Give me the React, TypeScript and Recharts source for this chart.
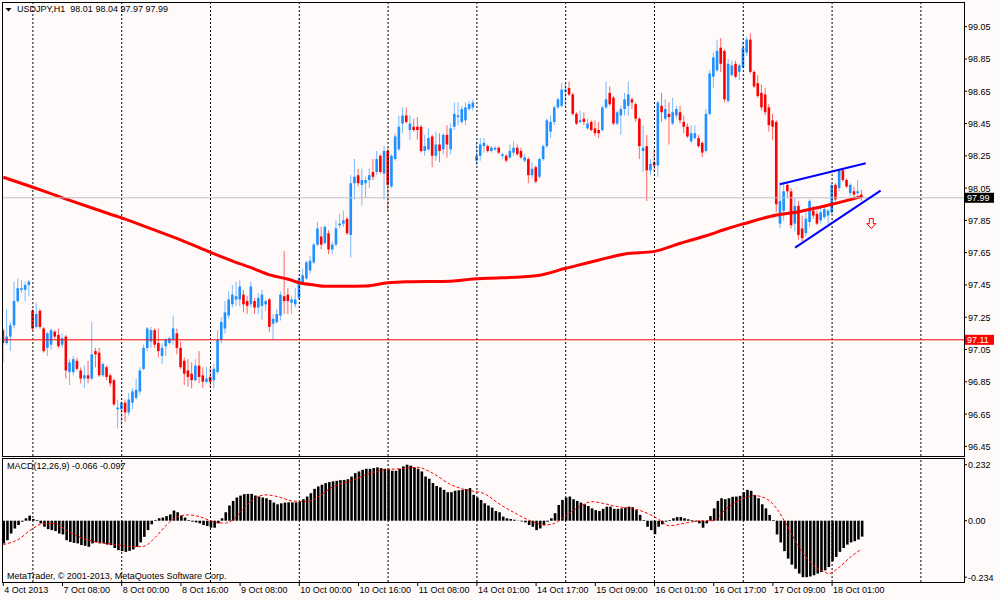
import React from "react"
import {
  ComposedChart,
  Bar,
  Line,
  XAxis,
  YAxis,
  ReferenceLine,
  ReferenceDot,
} from "recharts"

const FONT = "'Liberation Sans', Arial, sans-serif"
const BG = "#fffafa"
const BULL = "#1e90ff"
const BEAR = "#ff0000"

// USDJPY H1, 4 Oct 2013 16:00 .. 18 Oct 2013 08:00 — [open, high, low, close]
const ohlc: [number, number, number, number][] = [
  // 0
  [97.17, 97.18, 96.97, 97.09], [97.09, 97.3, 97.08, 97.13], [97.13, 97.22, 97.04, 97.2], [97.2, 97.47, 97.18, 97.35], [97.35, 97.49, 97.34, 97.43],
  [97.42, 97.48, 97.4, 97.43], [97.42, 97.47, 97.35, 97.45], [97.45, 97.48, 97.38, 97.47], [97.29, 97.3, 97.17, 97.18], [97.19, 97.34, 97.18, 97.27],
  // 10
  [97.29, 97.3, 97.18, 97.19], [97.18, 97.19, 97.03, 97.04], [97.06, 97.16, 97.01, 97.15], [97.08, 97.18, 97.05, 97.17], [97.16, 97.17, 97.11, 97.13],
  [97.14, 97.18, 97.06, 97.07], [97.08, 97.15, 97.06, 97.12], [97.13, 97.14, 96.87, 96.92], [96.91, 96.99, 96.83, 96.97], [96.91, 97.01, 96.89, 96.99],
  // 20
  [96.98, 97.0, 96.92, 96.93], [96.92, 96.94, 96.84, 96.87], [96.87, 96.95, 96.81, 96.89], [96.89, 96.98, 96.84, 96.87], [96.87, 97.22, 96.86, 97.02],
  [97.04, 97.06, 96.94, 97.02], [97.03, 97.06, 96.88, 96.89], [96.89, 96.97, 96.88, 96.96], [96.94, 96.95, 96.86, 96.88], [96.89, 96.9, 96.82, 96.84],
  // 30
  [96.86, 96.87, 96.7, 96.71], [96.68, 96.74, 96.56, 96.69], [96.68, 96.73, 96.58, 96.72], [96.72, 96.74, 96.6, 96.66], [96.66, 96.78, 96.64, 96.74],
  [96.72, 96.81, 96.68, 96.79], [96.75, 96.87, 96.74, 96.8], [96.79, 96.94, 96.77, 96.92], [96.93, 97.08, 96.92, 97.06], [97.06, 97.19, 97.04, 97.18],
  // 40
  [97.1, 97.19, 97.06, 97.17], [97.17, 97.18, 97.06, 97.08], [97.09, 97.18, 97.0, 97.04], [97.01, 97.09, 96.96, 97.06], [97.07, 97.12, 97.01, 97.11],
  [97.09, 97.13, 97.08, 97.12], [97.11, 97.26, 97.08, 97.18], [97.15, 97.18, 97.02, 97.06], [97.06, 97.1, 96.93, 96.94], [96.98, 97.0, 96.83, 96.9],
  // 50
  [96.92, 96.99, 96.82, 96.88], [96.9, 96.97, 96.81, 96.86], [96.86, 96.99, 96.85, 96.95], [96.95, 97.04, 96.84, 96.88], [96.89, 96.94, 96.81, 96.85],
  [96.85, 96.94, 96.84, 96.87], [96.88, 96.94, 96.81, 96.85], [96.86, 96.96, 96.81, 96.93], [96.91, 97.17, 96.9, 97.11], [97.11, 97.25, 97.09, 97.22],
  // 60
  [97.18, 97.35, 97.15, 97.28], [97.26, 97.41, 97.24, 97.36], [97.33, 97.45, 97.31, 97.39], [97.36, 97.47, 97.32, 97.38], [97.36, 97.48, 97.32, 97.44],
  [97.39, 97.42, 97.28, 97.33], [97.35, 97.38, 97.27, 97.32], [97.33, 97.47, 97.31, 97.44], [97.35, 97.37, 97.27, 97.31], [97.31, 97.4, 97.27, 97.37],
  // 70
  [97.32, 97.42, 97.23, 97.39], [97.33, 97.36, 97.29, 97.35], [97.36, 97.37, 97.16, 97.19], [97.21, 97.27, 97.11, 97.24], [97.22, 97.3, 97.21, 97.27],
  [97.26, 97.41, 97.23, 97.39], [97.38, 97.66, 97.27, 97.35], [97.39, 97.43, 97.27, 97.35], [97.34, 97.38, 97.27, 97.36], [97.33, 97.43, 97.31, 97.36],
  // 80
  [97.37, 97.5, 97.36, 97.49], [97.46, 97.55, 97.45, 97.51], [97.49, 97.6, 97.48, 97.59], [97.54, 97.63, 97.52, 97.6], [97.59, 97.71, 97.58, 97.7],
  [97.7, 97.84, 97.69, 97.8], [97.75, 97.81, 97.67, 97.7], [97.71, 97.82, 97.7, 97.81], [97.77, 97.79, 97.64, 97.67], [97.67, 97.72, 97.64, 97.7],
  // 90
  [97.7, 97.85, 97.69, 97.8], [97.82, 97.89, 97.8, 97.83], [97.83, 97.91, 97.81, 97.85], [97.86, 97.87, 97.76, 97.77], [97.76, 98.13, 97.62, 98.08],
  [98.08, 98.23, 97.98, 98.12], [98.13, 98.17, 98.06, 98.08], [98.07, 98.17, 97.94, 98.1], [98.08, 98.12, 97.99, 98.1], [98.1, 98.17, 98.05, 98.13],
  // 100
  [98.15, 98.23, 98.1, 98.12], [98.15, 98.28, 98.13, 98.23], [98.25, 98.26, 98.14, 98.15], [98.14, 98.31, 97.98, 98.28], [98.28, 98.3, 97.91, 98.07],
  [98.06, 98.26, 98.05, 98.25], [98.23, 98.39, 98.22, 98.37], [98.29, 98.5, 98.28, 98.43], [98.45, 98.55, 98.39, 98.5], [98.5, 98.55, 98.45, 98.46],
  // 110
  [98.41, 98.5, 98.35, 98.45], [98.43, 98.48, 98.4, 98.41], [98.43, 98.49, 98.35, 98.41], [98.43, 98.44, 98.27, 98.28], [98.28, 98.38, 98.25, 98.31],
  [98.29, 98.42, 98.28, 98.36], [98.37, 98.38, 98.18, 98.25], [98.25, 98.4, 98.22, 98.32], [98.32, 98.39, 98.21, 98.28], [98.29, 98.39, 98.26, 98.38],
  // 120
  [98.38, 98.44, 98.24, 98.32], [98.29, 98.45, 98.26, 98.42], [98.43, 98.58, 98.41, 98.51], [98.49, 98.58, 98.44, 98.5], [98.46, 98.56, 98.45, 98.54],
  [98.47, 98.58, 98.44, 98.55], [98.54, 98.59, 98.53, 98.57], [98.55, 98.6, 98.53, 98.58], [98.22, 98.34, 98.19, 98.25], [98.25, 98.36, 98.22, 98.32],
  // 130
  [98.31, 98.36, 98.27, 98.33], [98.31, 98.32, 98.27, 98.28], [98.28, 98.31, 98.27, 98.3], [98.29, 98.31, 98.28, 98.3], [98.3, 98.31, 98.26, 98.27],
  [98.25, 98.27, 98.23, 98.26], [98.25, 98.26, 98.21, 98.22], [98.24, 98.32, 98.23, 98.28], [98.27, 98.34, 98.25, 98.3], [98.3, 98.32, 98.25, 98.26],
  // 140
  [98.28, 98.3, 98.23, 98.24], [98.22, 98.26, 98.21, 98.24], [98.23, 98.24, 98.08, 98.13], [98.13, 98.21, 98.11, 98.17], [98.18, 98.19, 98.08, 98.09],
  [98.12, 98.24, 98.11, 98.23], [98.23, 98.32, 98.22, 98.31], [98.31, 98.48, 98.3, 98.47], [98.4, 98.5, 98.36, 98.46], [98.46, 98.56, 98.44, 98.55],
  // 150
  [98.55, 98.61, 98.54, 98.6], [98.56, 98.7, 98.55, 98.66], [98.65, 98.7, 98.56, 98.66], [98.67, 98.71, 98.62, 98.63], [98.63, 98.64, 98.5, 98.51],
  [98.51, 98.52, 98.44, 98.45], [98.46, 98.53, 98.45, 98.47], [98.48, 98.52, 98.44, 98.46], [98.42, 98.48, 98.41, 98.45], [98.46, 98.47, 98.4, 98.41],
  // 160
  [98.42, 98.47, 98.37, 98.39], [98.41, 98.46, 98.36, 98.39], [98.41, 98.56, 98.4, 98.55], [98.55, 98.71, 98.54, 98.6], [98.64, 98.68, 98.56, 98.57],
  [98.61, 98.62, 98.44, 98.45], [98.45, 98.53, 98.44, 98.52], [98.5, 98.56, 98.38, 98.54], [98.54, 98.64, 98.5, 98.6], [98.56, 98.71, 98.5, 98.63],
  // 170
  [98.6, 98.61, 98.54, 98.58], [98.57, 98.58, 98.46, 98.48], [98.48, 98.49, 98.23, 98.31], [98.28, 98.44, 98.15, 98.3], [98.31, 98.38, 97.97, 98.16],
  [98.16, 98.23, 98.13, 98.2], [98.21, 98.29, 98.15, 98.19], [98.19, 98.59, 98.12, 98.58], [98.56, 98.64, 98.46, 98.52], [98.48, 98.6, 98.47, 98.54],
  // 180
  [98.51, 98.58, 98.32, 98.49], [98.45, 98.61, 98.44, 98.52], [98.5, 98.56, 98.48, 98.54], [98.52, 98.56, 98.45, 98.47], [98.46, 98.5, 98.39, 98.43],
  [98.43, 98.45, 98.36, 98.37], [98.34, 98.44, 98.33, 98.39], [98.36, 98.44, 98.35, 98.39], [98.36, 98.38, 98.3, 98.31], [98.33, 98.34, 98.24, 98.27],
  // 190
  [98.28, 98.54, 98.27, 98.51], [98.51, 98.78, 98.5, 98.76], [98.74, 98.89, 98.67, 98.86], [98.78, 98.97, 98.77, 98.9], [98.92, 98.98, 98.77, 98.82],
  [98.9, 98.91, 98.58, 98.6], [98.59, 98.85, 98.58, 98.82], [98.75, 98.84, 98.74, 98.81], [98.82, 98.84, 98.73, 98.74], [98.77, 98.82, 98.72, 98.81],
  // 200
  [98.8, 98.96, 98.79, 98.92], [98.89, 98.99, 98.87, 98.97], [98.97, 99.01, 98.76, 98.77], [98.77, 98.78, 98.67, 98.68], [98.7, 98.75, 98.61, 98.62],
  [98.64, 98.69, 98.53, 98.55], [98.63, 98.67, 98.5, 98.52], [98.55, 98.57, 98.4, 98.44], [98.47, 98.51, 98.35, 98.43], [98.46, 98.47, 97.9, 97.95],
  // 210
  [97.83, 98.09, 97.8, 97.97], [97.91, 98.09, 97.85, 98.03], [98.07, 98.09, 97.99, 98.03], [98.03, 98.05, 97.8, 97.82], [97.83, 97.99, 97.78, 97.94],
  [97.94, 97.97, 97.73, 97.76], [97.8, 97.88, 97.72, 97.74], [97.77, 97.9, 97.75, 97.86], [97.84, 97.98, 97.81, 97.97], [97.91, 97.94, 97.86, 97.88],
  // 220
  [97.89, 97.91, 97.82, 97.83], [97.85, 97.93, 97.83, 97.9], [97.87, 97.94, 97.86, 97.92], [97.88, 97.92, 97.83, 97.91], [97.9, 98.08, 97.89, 98.07],
  [98.07, 98.08, 97.97, 97.98], [98.05, 98.17, 98.03, 98.16], [98.16, 98.17, 98.09, 98.1], [98.1, 98.11, 98.05, 98.06], [98.02, 98.08, 98.0, 98.07],
  // 230
  [98.03, 98.06, 97.99, 98.01], [98.02, 98.1, 97.99, 98.03], [98.01, 98.04, 97.97, 97.99],
]

// MACD(12,26,9) main line, drawn as histogram
const macdHist = [
  -0.094, -0.081, -0.053, -0.032, -0.018, -0.004, 0.01, 0.021, 0.007, 0.003,
  -0.011, -0.025, -0.035, -0.039, -0.043, -0.053, -0.057, -0.081, -0.088, -0.092,
  -0.094, -0.101, -0.104, -0.108, -0.094, -0.09, -0.094, -0.094, -0.099, -0.101,
  -0.113, -0.122, -0.126, -0.129, -0.125, -0.119, -0.108, -0.09, -0.067, -0.039,
  -0.015, 0.003, 0.01, 0.013, 0.019, 0.026, 0.042, 0.035, 0.021, 0.013,
  0.003, -0.004, -0.007, -0.011, -0.018, -0.022, -0.029, -0.029, -0.011, 0.01,
  0.035, 0.063, 0.082, 0.096, 0.104, 0.11, 0.111, 0.111, 0.104, 0.1,
  0.096, 0.093, 0.086, 0.075, 0.068, 0.072, 0.075, 0.076, 0.076, 0.076,
  0.079, 0.089, 0.1, 0.114, 0.132, 0.142, 0.149, 0.156, 0.16, 0.163,
  0.165, 0.168, 0.169, 0.172, 0.183, 0.197, 0.204, 0.211, 0.215, 0.215,
  0.218, 0.221, 0.218, 0.215, 0.215, 0.207, 0.207, 0.215, 0.225, 0.232,
  0.228, 0.221, 0.215, 0.204, 0.183, 0.174, 0.156, 0.144, 0.138, 0.128,
  0.118, 0.118, 0.124, 0.126, 0.128, 0.131, 0.135, 0.107, 0.096, 0.086,
  0.072, 0.063, 0.054, 0.04, 0.035, 0.017, 0.01, 0.007, 0.004, 0.001,
  -0.003, -0.007, -0.018, -0.025, -0.039, -0.032, -0.018, -0.004, 0.01, 0.031,
  0.065, 0.086, 0.096, 0.1, 0.089, 0.082, 0.075, 0.068, 0.061, 0.051,
  0.044, 0.04, 0.049, 0.058, 0.058, 0.049, 0.049, 0.051, 0.054, 0.058,
  0.056, 0.044, 0.024, 0.003, -0.025, -0.039, -0.056, -0.025, -0.015, -0.004,
  0.003, 0.01, 0.015, 0.015, 0.01, 0.006, 0.003, -0.004, -0.011, -0.029,
  -0.011, 0.019, 0.051, 0.082, 0.093, 0.089, 0.093, 0.099, 0.1, 0.103,
  0.118, 0.128, 0.124, 0.107, 0.093, 0.068, 0.051, 0.024, 0.003, -0.057,
  -0.09, -0.126, -0.157, -0.182, -0.199, -0.219, -0.234, -0.234, -0.231, -0.226,
  -0.219, -0.213, -0.206, -0.192, -0.168, -0.15, -0.129, -0.113, -0.099, -0.09,
  -0.085, -0.078, -0.066,
]

// signal line, read at [bar, value]
const signalPts: [number, number][] = [
  [0, -0.099], [4, -0.078], [8, -0.032], [11, -0.011], [14, -0.012], [17, -0.039], [22, -0.076],
  [26, -0.09], [31, -0.1], [35, -0.108], [38, -0.106], [41, -0.07], [44, -0.02], [47, 0.016],
  [50, 0.024], [53, 0.017], [57, -0.005], [60, -0.01], [62, 0.003], [65, 0.051], [68, 0.093],
  [71, 0.107], [75, 0.096], [78, 0.082], [82, 0.079], [86, 0.108], [89, 0.14], [94, 0.165],
  [98, 0.19], [103, 0.211], [107, 0.215], [112, 0.221], [116, 0.197], [121, 0.149], [125, 0.128],
  [130, 0.112], [134, 0.07], [139, 0.026], [143, -0.004], [146, -0.018], [149, -0.011], [151, 0.01],
  [155, 0.051], [159, 0.079], [162, 0.072], [166, 0.058], [170, 0.051], [174, 0.031], [177, 0.007],
  [180, -0.021], [184, -0.011], [188, -0.001], [192, 0.0], [195, 0.044], [199, 0.086], [203, 0.104],
  [206, 0.093], [209, 0.051], [212, -0.025], [215, -0.108], [219, -0.185], [222, -0.213], [223, -0.219],
  [226, -0.192], [229, -0.15], [232, -0.118],
]

// slow moving average (red), read at [bar, value]
const maPts: [number, number][] = [
  [0, 98.117], [8, 98.055], [17, 97.982], [26, 97.911], [32, 97.865], [40, 97.797], [49, 97.719],
  [56, 97.652], [62, 97.598], [67, 97.557], [72, 97.512], [77, 97.485], [80, 97.464], [84, 97.45],
  [87, 97.442], [95, 97.442], [98, 97.443], [104, 97.464], [109, 97.47], [121, 97.473], [127, 97.487],
  [131, 97.491], [144, 97.507], [152, 97.553], [161, 97.605], [168, 97.642], [176, 97.658], [183, 97.708],
  [190, 97.755], [196, 97.801], [200, 97.828], [209, 97.883], [215, 97.904], [224, 97.95], [232, 97.997],
]

const labelBars = [0, 16, 32, 48, 64, 80, 96, 112, 128, 144, 160, 176, 192, 208, 224]
const timeLabels = [
  "4 Oct 2013", "7 Oct 08:00", "8 Oct 00:00", "8 Oct 16:00", "9 Oct 08:00",
  "10 Oct 00:00", "10 Oct 16:00", "11 Oct 08:00", "14 Oct 01:00", "14 Oct 17:00",
  "15 Oct 09:00", "16 Oct 01:00", "16 Oct 17:00", "17 Oct 09:00", "18 Oct 01:00",
]
const gridBars = [8, 32, 56, 80, 104, 128, 152, 176, 200, 224, 248]

const priceTicks = [99.05, 98.85, 98.65, 98.45, 98.25, 98.05, 97.85, 97.65, 97.45, 97.25, 97.05, 96.85, 96.65, 96.45]
const lastPrice = 97.99
const levelPrice = 97.11
const macdTicks = [0.232, 0, -0.234]

// hand drawn channel lines [bar, price]
const upperLine: [number, number][] = [[209.9, 98.074], [233.1, 98.204]]
const lowerLine: [number, number][] = [[214, 97.681], [237.1, 98.034]]
const arrowAt: [number, number] = [234.6, 97.83]

// window geometry: bar i sits at x = 3.3 + 3.7 * i, plot spans x 2..964
const X_DOMAIN: [number, number] = [(2 - 3.3) / 3.7, (964 - 3.3) / 3.7]
// 99.05 sits at y 26.7, 161.4 px per yen, main plot y 3..456
const PRICE_DOMAIN: [number, number] = [99.05 - (456 - 26.7) / 161.4, 99.05 + (26.7 - 3) / 161.4]
// macd zero at y 520.7, 241.4 px per unit, plot y 459..582
const MACD_DOMAIN: [number, number] = [-(582 - 520.7) / 241.4, (520.7 - 459) / 241.4]

const maMap = new Map(maPts)
const sigMap = new Map(signalPts)

const rows = ohlc.map(([o, h, l, c], i) => ({
  i,
  o,
  h,
  l,
  c,
  range: [l, h],
  macd: macdHist[i],
  ma: maMap.has(i) ? maMap.get(i) : null,
  sig: sigMap.has(i) ? sigMap.get(i) : null,
}))

const Candle = (props: any) => {
  const { x, y, width, height, payload } = props
  const top = Math.min(y, y + height)
  const span = Math.abs(height)
  const k = span / (payload.h - payload.l || 1)
  const py = (v: number) => top + (payload.h - v) * k
  const cx = x + width / 2
  const col = payload.c >= payload.o ? BULL : BEAR
  const bTop = py(Math.max(payload.o, payload.c))
  const bBot = py(Math.min(payload.o, payload.c))
  return (
    <g>
      <line x1={cx} x2={cx} y1={top} y2={top + span} stroke={col} strokeOpacity={0.6} strokeWidth={1} />
      <rect x={cx - 1.3} y={bTop} width={2.6} height={Math.max(1, bBot - bTop)} fill={col} />
    </g>
  )
}

const PriceTick = (props: any) => {
  const { x, y, payload } = props
  const v = payload.value as number
  const txt = v.toFixed(2)
  if (v === lastPrice || v === levelPrice) {
    return (
      <g>
        <rect x={x - 4} y={y - 5} width={30} height={10} fill={v === lastPrice ? "#000" : "#ff0000"} />
        <text x={x - 1} y={y + 3.5} fontSize={9} fontFamily={FONT} fill="#fff">{txt}</text>
      </g>
    )
  }
  return <text x={x} y={y + 3.5} fontSize={9} fontFamily={FONT} fill="#000">{txt}</text>
}

const MacdTick = (props: any) => {
  const { x, y, payload } = props
  const v = payload.value as number
  return (
    <text x={x} y={y + 3.5} fontSize={9} fontFamily={FONT} fill="#000">
      {v === 0 ? "0.00" : v.toFixed(3)}
    </text>
  )
}

const TimeTick = (props: any) => {
  const { x, y, payload } = props
  return (
    <text x={x + 1} y={y + 6} fontSize={9} fontFamily={FONT} fill="#000">
      {timeLabels[labelBars.indexOf(payload.value)]}
    </text>
  )
}

const DownArrow = (props: any) => {
  const { cx, cy } = props
  const d = `M${cx - 2},${cy - 5} H${cx + 2} V${cy} H${cx + 4.5} L${cx},${cy + 5} L${cx - 4.5},${cy} H${cx - 2} Z`
  return <path d={d} fill={BG} stroke="#ff0000" strokeWidth={1} />
}

const gridLines = () =>
  gridBars.map((b) => (
    <ReferenceLine key={b} x={b} stroke="#000" strokeDasharray="2 2" strokeWidth={1} />
  ))

const frame = (top: number, height: number): React.CSSProperties => ({
  position: "absolute",
  left: 2,
  top,
  width: 963,
  height,
  border: "1px solid #000",
  boxSizing: "border-box",
  pointerEvents: "none",
})

const label = (left: number, top: number): React.CSSProperties => ({
  position: "absolute",
  left,
  top,
  font: `9px ${FONT}`,
  lineHeight: "11px",
  color: "#000",
  whiteSpace: "pre",
})

export default function App() {
  return (
    <div style={{ position: "absolute", left: 0, top: 0, width: 1000, height: 600, background: BG, overflow: "hidden" }}>
      <div style={{ position: "absolute", left: 0, top: 0 }}>
        <ComposedChart width={1000} height={459} data={rows} margin={{ top: 3, right: 0, bottom: 3, left: 2 }}>
          <XAxis dataKey="i" type="number" domain={X_DOMAIN} allowDataOverflow hide />
          <YAxis
            orientation="right"
            width={36}
            type="number"
            domain={PRICE_DOMAIN}
            allowDataOverflow
            ticks={[...priceTicks, lastPrice, levelPrice]}
            interval={0}
            tick={PriceTick}
            tickSize={3}
            tickMargin={1}
            tickLine={{ stroke: "#000" }}
            axisLine={false}
          />
          {gridLines()}
          <Bar dataKey="range" barSize={3} shape={Candle} isAnimationActive={false} />
          <Line dataKey="ma" type="monotone" stroke="#ff0000" strokeWidth={3} dot={false} connectNulls isAnimationActive={false} />
          <ReferenceLine y={lastPrice} stroke="#c0c0c0" strokeWidth={1} />
          <ReferenceLine y={levelPrice} stroke="#ff0000" strokeWidth={1} />
          <ReferenceLine
            segment={upperLine.map(([x, y]) => ({ x, y }))}
            stroke="#0000ff"
            strokeWidth={2}
          />
          <ReferenceLine
            segment={lowerLine.map(([x, y]) => ({ x, y }))}
            stroke="#0000ff"
            strokeWidth={2}
          />
          <ReferenceDot x={arrowAt[0]} y={arrowAt[1]} r={5} shape={DownArrow} />
        </ComposedChart>
      </div>

      <div style={{ position: "absolute", left: 0, top: 458 }}>
        <ComposedChart width={1000} height={142} data={rows} margin={{ top: 1, right: 0, bottom: 0, left: 2 }}>
          <XAxis
            dataKey="i"
            type="number"
            domain={X_DOMAIN}
            allowDataOverflow
            ticks={labelBars}
            interval={0}
            height={18}
            tick={TimeTick}
            tickSize={4}
            tickMargin={1}
            tickLine={{ stroke: "#000" }}
            axisLine={false}
          />
          <YAxis
            orientation="right"
            width={36}
            type="number"
            domain={MACD_DOMAIN}
            allowDataOverflow
            ticks={macdTicks}
            interval={0}
            tick={MacdTick}
            tickSize={3}
            tickMargin={1}
            tickLine={{ stroke: "#000" }}
            axisLine={false}
          />
          {gridLines()}
          <Bar dataKey="macd" fill="#000" barSize={2.6} isAnimationActive={false} />
          <Line dataKey="sig" type="monotone" stroke="#ff0000" strokeWidth={1} strokeDasharray="3 2" dot={false} connectNulls isAnimationActive={false} />
        </ComposedChart>
      </div>

      <div style={frame(2, 455)} />
      <div style={frame(458, 125)} />

      <svg style={{ position: "absolute", left: 5, top: 7 }} width={8} height={6}>
        <path d="M0.5,1 L6.5,1 L3.5,4.5 Z" fill="#000" />
      </svg>
      <div style={label(17, 4)}>USDJPY,H1  98.01 98.04 97.97 97.99</div>
      <div style={label(7, 461)}>MACD(12,26,9) -0.066 -0.097</div>
      <div style={label(7, 571)}>MetaTrader, © 2001-2013, MetaQuotes Software Corp.</div>
    </div>
  )
}
